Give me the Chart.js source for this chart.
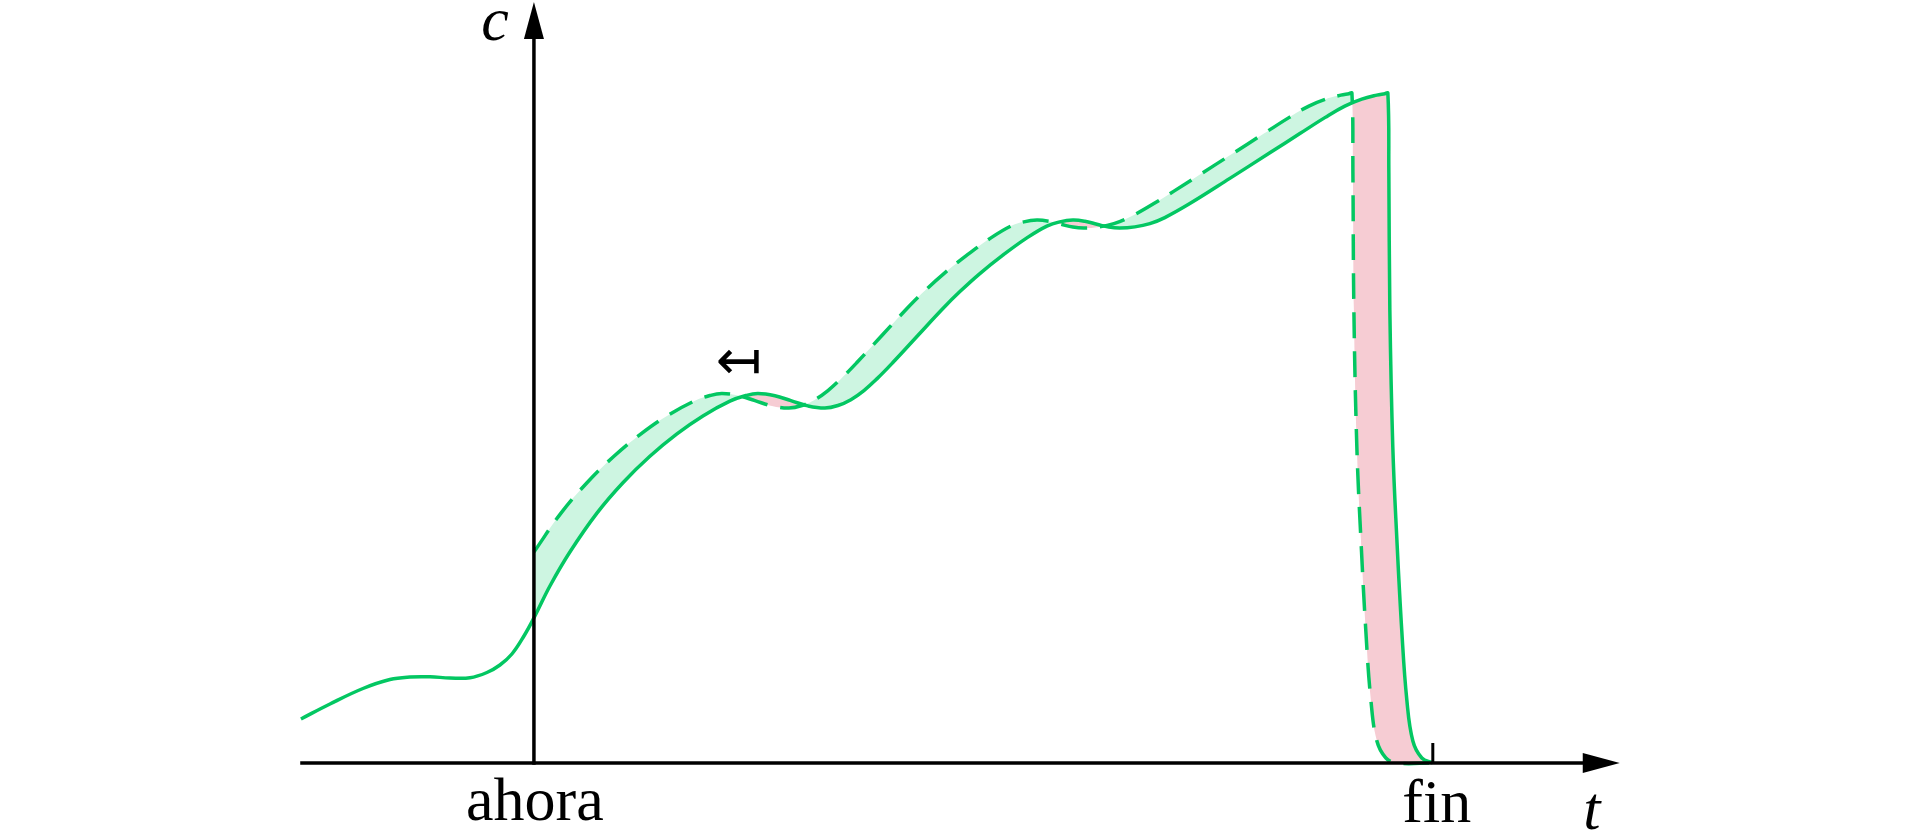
<!DOCTYPE html>
<html>
<head>
<meta charset="utf-8">
<script src="https://cdn.jsdelivr.net/npm/chart.js@4.4.1/dist/chart.umd.min.js"></script>
<style>
  html, body { margin: 0; padding: 0; background: #ffffff; }
  #wrap { width: 1920px; height: 835px; }
</style>
</head>
<body>
<div id="wrap"><canvas id="c" width="1920" height="835"></canvas></div>
<script>
// ---- data (t: time, c: value) ----
// solid curve: c(t)
const solidT = [-25.92, -22.69, -19.02, -16.02, -13.79, -11.57, -9.34, -7.12, -5.23, -3.78, -2.45, -1.11, 0.11, 1.78, 4.00, 7.01, 9.90, 12.90, 15.91, 18.80, 21.80, 23.58, 24.92, 26.81, 28.59, 30.48, 32.37, 33.82, 35.26, 36.71, 38.15, 39.93, 42.71, 45.50, 47.39, 49.61, 52.17, 54.84, 57.06, 58.51, 59.96, 61.29, 62.63, 63.96, 65.18, 66.85, 68.52, 70.19, 72.97, 77.42, 81.87, 85.21, 87.99, 90.21, 92.10, 93.77, 94.66, 95.00, 95.11, 95.22, 95.55, 96.00, 96.55, 97.11, 97.78, 98.78, 100];
const solidC = [6.57, 8.81, 11.12, 12.46, 12.84, 12.87, 12.69, 12.72, 13.51, 14.63, 16.27, 18.96, 21.94, 26.42, 31.49, 37.30, 41.84, 45.79, 49.13, 51.81, 54.01, 54.85, 55.15, 54.82, 54.09, 53.31, 52.99, 53.37, 54.24, 55.60, 57.34, 59.78, 63.81, 67.84, 70.37, 73.06, 75.81, 78.39, 80.15, 80.78, 81.04, 80.87, 80.43, 80.00, 79.85, 80.03, 80.52, 81.42, 83.51, 87.27, 91.09, 93.96, 96.34, 98.06, 99.10, 99.70, 99.91, 100.0, 88.06, 67.61, 47.16, 33.43, 19.70, 9.40, 3.28, 0.75, 0];

// dashed curve: the same profile read earlier in time, drawn from "ahora" on
const dashT = [0.00, 3.01, 5.90, 8.90, 11.91, 14.80, 17.80, 19.58, 20.92, 22.81, 24.59, 26.48, 28.37, 29.82, 31.26, 32.71, 34.15, 35.93, 38.71, 41.50, 43.39, 45.61, 48.17, 50.84, 53.06, 54.51, 55.96, 57.29, 58.63, 59.96, 61.18, 62.85, 64.52, 66.19, 68.97, 73.42, 77.87, 81.21, 83.99, 86.21, 88.10, 89.77, 90.66, 91.00, 91.11, 91.22, 91.55, 92.00, 92.55, 93.11, 93.78, 94.78, 96.00, 100];
const dashC = [31.49, 37.30, 41.84, 45.79, 49.13, 51.81, 54.01, 54.85, 55.15, 54.82, 54.09, 53.31, 52.99, 53.37, 54.24, 55.60, 57.34, 59.78, 63.81, 67.84, 70.37, 73.06, 75.81, 78.39, 80.15, 80.78, 81.04, 80.87, 80.43, 80.00, 79.85, 80.03, 80.52, 81.42, 83.51, 87.27, 91.09, 93.96, 96.34, 98.06, 99.10, 99.70, 99.91, 100.0, 88.06, 67.61, 47.16, 33.43, 19.70, 9.40, 3.28, 0.75, 0, 0];

const tickValues = [0, 100];
const tickLabels = ['ahora', 'fin'];
const axisLabels = { x: 't', y: 'c' };
const shiftMark = { t: 22.8, c: 59.4, text: '↤' };

// axis extents (data units)
const X_MIN = -59.4, X_MAX = 154.2, Y_MIN = -10.75, Y_MAX = 113.9;
const X_AXIS_START = -26.0, X_AXIS_TIP = 120.8, Y_AXIS_TIP = 113.6;

const GREEN = '#03c762';
const FILL_GREEN = '#cdf5e1';
const FILL_PINK = '#f6ccd3';

const solidData = solidT.map((t, i) => ({ x: t, y: solidC[i] }));
const dashData = dashT.map((t, i) => ({ x: t, y: dashC[i] }));

const axesPlugin = {
  id: 'axesPlugin',
  afterDatasetsDraw(chart) {
    const { ctx, scales: { x, y } } = chart;
    const x0 = x.getPixelForValue(tickValues[0]);
    const xf = x.getPixelForValue(tickValues[1]);
    const y0 = y.getPixelForValue(0);
    const xs = x.getPixelForValue(X_AXIS_START);
    const xe = x.getPixelForValue(X_AXIS_TIP);
    const yt = y.getPixelForValue(Y_AXIS_TIP);
    ctx.save();
    ctx.strokeStyle = '#000';
    ctx.fillStyle = '#000';
    ctx.lineWidth = 3.5;
    // x axis
    ctx.beginPath(); ctx.moveTo(xs, y0); ctx.lineTo(xe - 34, y0); ctx.stroke();
    ctx.beginPath(); ctx.moveTo(xe, y0); ctx.lineTo(xe - 37, y0 - 10); ctx.lineTo(xe - 37, y0 + 10); ctx.closePath(); ctx.fill();
    // y axis
    ctx.beginPath(); ctx.moveTo(x0, y0 + 1.75); ctx.lineTo(x0, yt + 34); ctx.stroke();
    ctx.beginPath(); ctx.moveTo(x0, yt); ctx.lineTo(x0 - 10, yt + 37); ctx.lineTo(x0 + 10, yt + 37); ctx.closePath(); ctx.fill();
    // fin tick
    ctx.lineWidth = 3;
    ctx.beginPath(); ctx.moveTo(xf, y0); ctx.lineTo(xf, y0 - 20); ctx.stroke();
    // tick labels
    ctx.textAlign = 'center';
    ctx.textBaseline = 'alphabetic';
    ctx.font = '62px "Liberation Serif"';
    ctx.fillText(tickLabels[0], x0 + 1, y0 + 57);
    ctx.fillText(tickLabels[1], xf + 4, y0 + 59);
    // axis labels
    ctx.font = 'italic 62px "Liberation Serif"';
    ctx.fillText(axisLabels.x, xe - 28, y0 + 66);
    ctx.fillText(axisLabels.y, x0 - 39, yt + 38);
    // shift arrow
    ctx.font = '55px "DejaVu Sans"';
    ctx.textBaseline = 'middle';
    ctx.fillText(shiftMark.text, x.getPixelForValue(shiftMark.t), y.getPixelForValue(shiftMark.c));
    ctx.restore();
  }
};

new Chart(document.getElementById('c'), {
  type: 'line',
  data: {
    datasets: [
      {
        label: 'c(t)',
        data: solidData,
        borderColor: GREEN,
        borderWidth: 3.5,
        pointRadius: 0,
        fill: false,
        tension: 0.4
      },
      {
        label: 'c(t + Δ)',
        data: dashData,
        borderColor: GREEN,
        borderWidth: 3.5,
        borderDash: [26, 13],
        pointRadius: 0,
        tension: 0.4,
        fill: { target: 0, above: FILL_GREEN, below: FILL_PINK }
      }
    ]
  },
  options: {
    responsive: false,
    animation: false,
    devicePixelRatio: 1,
    layout: { padding: 0 },
    plugins: { legend: { display: false }, tooltip: { enabled: false }, title: { display: false } },
    scales: {
      x: { type: 'linear', min: X_MIN, max: X_MAX, display: false },
      y: { type: 'linear', min: Y_MIN, max: Y_MAX, display: false }
    }
  },
  plugins: [axesPlugin]
});
</script>
</body>
</html>
